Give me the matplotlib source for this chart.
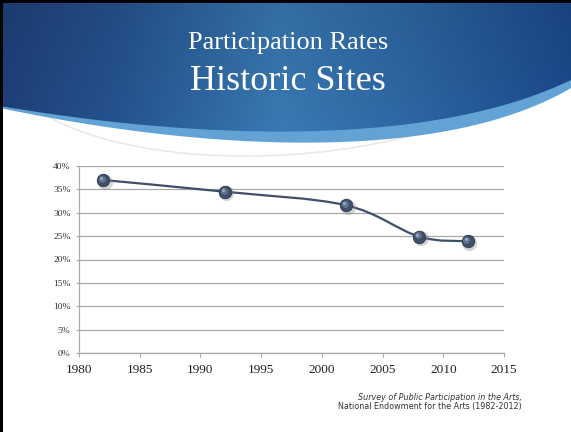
import numpy as np
import matplotlib
matplotlib.use("Agg")
import matplotlib.pyplot as plt
from matplotlib.path import Path
from matplotlib.patches import PathPatch, Rectangle
from matplotlib import transforms

# data
years = [1982, 1992, 2002, 2008, 2012]
rates = [37.0, 34.5, 31.6, 24.9, 23.9]
y_ticks = [0, 5, 10, 15, 20, 25, 30, 35, 40]
x_ticks = [1980, 1985, 1990, 1995, 2000, 2005, 2010, 2015]
title_1 = "Participation Rates"
title_2 = "Historic Sites"
source_1 = "Survey of Public Participation in the Arts,"
source_2 = "National Endowment for the Arts (1982-2012)"

W, H = 571, 432
fig = plt.figure(figsize=(W / 100, H / 100), dpi=100)
fig.patch.set_facecolor("white")

# background axes in pixel coordinates
bg = fig.add_axes([0, 0, 1, 1])
bg.set_xlim(0, W)
bg.set_ylim(H, 0)
bg.axis("off")

# banner gradient
stops_x = [0, 120, 280, 400, 571]
stops_c = np.array([[0x1e, 0x3f, 0x78], [0x25, 0x52, 0x8e], [0x38, 0x77, 0xb0],
                    [0x2e, 0x66, 0xa2], [0x1b, 0x48, 0x8a]]) / 255.0
xs = np.arange(W)
row = np.stack([np.interp(xs, stops_x, stops_c[:, k]) for k in range(3)], axis=1)
vert = np.linspace(0.92, 1.05, 170)[:, None, None]
img = np.clip(row[None, :, :] * vert, 0, 1)


def bezier_edge(p0, p1, p2, p3, n=200):
    t = np.linspace(0, 1, n)[:, None]
    pts = ((1 - t) ** 3 * np.array(p0) + 3 * (1 - t) ** 2 * t * np.array(p1)
           + 3 * (1 - t) * t ** 2 * np.array(p2) + t ** 3 * np.array(p3))
    return pts


low = bezier_edge((0, 108), (200, 150), (440, 165), (571, 88))
dark = bezier_edge((0, 106), (200, 140), (430, 148), (571, 80))

band = PathPatch(Path(np.vstack([[0, 0], [W, 0], low[::-1], [0, 0]])),
                 facecolor="#63a2d5", edgecolor="none", zorder=1)
bg.add_patch(band)

dark_path = Path(np.vstack([[0, 0], [W, 0], dark[::-1], [0, 0]]))
dark_patch = PathPatch(dark_path, facecolor="none", edgecolor="none")
bg.add_patch(dark_patch)
im = bg.imshow(img, extent=(0, W, 170, 0), aspect="auto", zorder=2,
               interpolation="bilinear")
im.set_clip_path(dark_patch)

# faint decorative swoosh
sw = bezier_edge((45, 115), (150, 175), (380, 170), (520, 95))
bg.plot(sw[:, 0], sw[:, 1], color="#ede8e2", lw=1.2, zorder=0.5)

# black slide frame on top and left
bg.add_patch(Rectangle((0, 0), 3, H, facecolor="black", edgecolor="none", zorder=5))
bg.add_patch(Rectangle((0, 0), W, 3, facecolor="black", edgecolor="none", zorder=5))

# titles
bg.text(288, 49, title_1, color="white", fontsize=19, family="Liberation Serif",
        ha="center", va="baseline", zorder=6)
bg.text(288, 90, title_2, color="white", fontsize=26, family="Liberation Serif",
        ha="center", va="baseline", zorder=6)

# source note
bg.text(522, 398, source_1, fontsize=5.8, style="italic", color="#333333",
        ha="right", va="center", family="DejaVu Sans")
bg.text(522, 407, source_2, fontsize=5.8, color="#333333",
        ha="right", va="center", family="DejaVu Sans")

# chart axes
ax = fig.add_axes([79 / W, 1 - 353 / H, 425 / W, 187 / H])
ax.patch.set_alpha(0)
ax.set_xlim(1980, 2015)
ax.set_ylim(0, 40)
ax.set_yticks(y_ticks)
ax.set_yticklabels([f"{v}%" for v in y_ticks], fontsize=6.8,
                   family="Liberation Serif", color="#303030")
ax.set_xticks(x_ticks)
ax.set_xticklabels([str(v) for v in x_ticks], fontsize=9.5,
                   family="Liberation Serif", color="#202020")
ax.grid(axis="y", color="#a8a8a8", lw=0.9)
ax.set_axisbelow(True)
for s in ["top", "right"]:
    ax.spines[s].set_visible(False)
for s in ["left", "bottom"]:
    ax.spines[s].set_color("#a8a8a8")
    ax.spines[s].set_linewidth(0.9)
ax.tick_params(axis="y", length=2, color="#a8a8a8", pad=4)
ax.tick_params(axis="x", length=3, color="#a8a8a8", pad=5)

# smoothed line (cubic bezier segments through the points)
px = np.array(years, dtype=float)
py = np.array(rates, dtype=float)
n = len(px)
verts = [(px[0], py[0])]
codes = [Path.MOVETO]
for i in range(n - 1):
    pm = i - 1 if i > 0 else i
    pp = i + 2 if i + 2 < n else i + 1
    c1 = (px[i] + (px[i + 1] - px[pm]) / 6, py[i] + (py[i + 1] - py[pm]) / 6)
    c2 = (px[i + 1] - (px[pp] - px[i]) / 6, py[i + 1] - (py[pp] - py[i]) / 6)
    verts += [c1, c2, (px[i + 1], py[i + 1])]
    codes += [Path.CURVE4] * 3
ax.add_patch(PathPatch(Path(verts, codes), facecolor="none", edgecolor="#3e5069",
                       lw=1.6, zorder=3))

# markers: shadow, sphere, highlight
shadow_tr = transforms.offset_copy(ax.transData, fig=fig, x=1.5, y=-1.5, units="dots")
ax.plot(px, py, "o", ms=11, color="#888888", alpha=0.35, mec="none",
        transform=shadow_tr, zorder=4)
ax.plot(px, py, "o", ms=9, color="#3e5069", mec="#2c3a4e", mew=0.6, zorder=5)
hi_tr = transforms.offset_copy(ax.transData, fig=fig, x=-1.2, y=1.2, units="dots")
ax.plot(px, py, "o", ms=5, color="#6f829c", alpha=0.7, mec="none",
        transform=hi_tr, zorder=6)
ax.plot(px, py, "o", ms=2.2, color="#a9b8cb", alpha=0.8, mec="none",
        transform=transforms.offset_copy(ax.transData, fig=fig, x=-1.8, y=1.8,
                                         units="dots"), zorder=7)

fig.savefig("out.png", dpi=100)
